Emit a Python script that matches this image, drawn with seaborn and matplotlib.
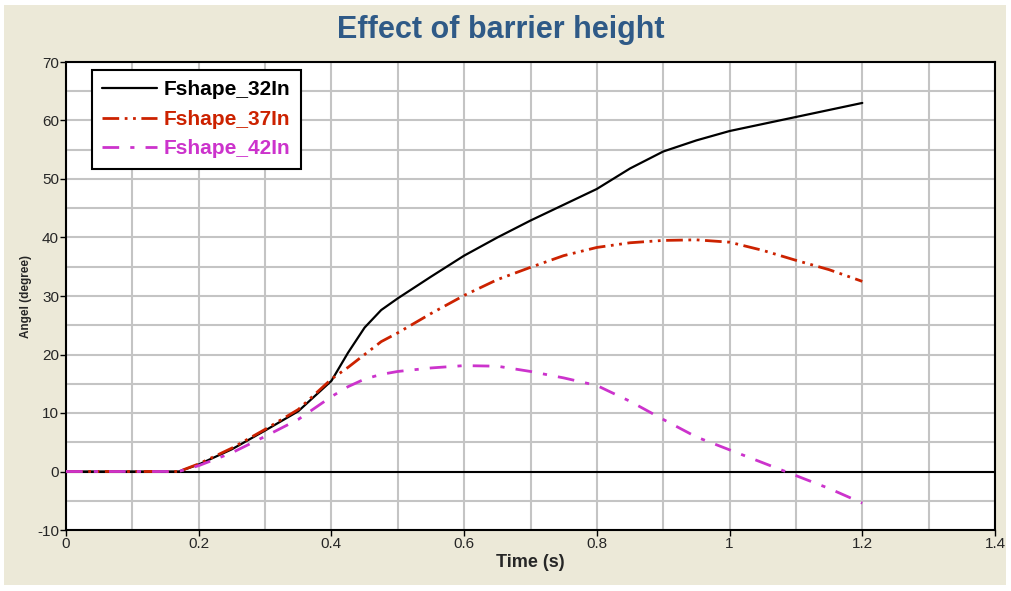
import matplotlib
matplotlib.use("Agg")
import matplotlib.pyplot as plt
from matplotlib.patches import Rectangle
import seaborn as sns
import pandas as pd

time_s = [0.0, 0.1, 0.17, 0.2, 0.25, 0.3, 0.35, 0.4, 0.425, 0.45, 0.475, 0.5, 0.55,
          0.6, 0.65, 0.7, 0.75, 0.8, 0.85, 0.9, 0.95, 1.0, 1.05, 1.1, 1.15, 1.2]
fshape_32 = [0, 0, 0, 1.2, 3.8, 7.0, 10.3, 15.5, 20.3, 24.6, 27.6, 29.6, 33.3,
             36.9, 40.0, 42.9, 45.6, 48.3, 51.8, 54.7, 56.6, 58.2, 59.4, 60.6, 61.8, 63.0]
fshape_37 = [0, 0, 0, 1.3, 4.0, 7.2, 10.6, 15.8, 17.8, 20.0, 22.2, 23.7, 27.0,
             30.1, 32.8, 34.9, 36.9, 38.3, 39.1, 39.5, 39.6, 39.2, 37.8, 36.1, 34.5, 32.5]
fshape_42 = [0, 0, 0, 1.0, 3.2, 6.0, 8.9, 12.8, 14.5, 15.8, 16.6, 17.1, 17.7,
             18.1, 18.0, 17.1, 16.0, 14.7, 12.0, 8.9, 5.9, 3.7, 1.5, -0.7, -2.9, -5.4]
series_names = ["Fshape_32In", "Fshape_37In", "Fshape_42In"]
colors = ["#000000", "#CC2200", "#CC33CC"]
dashes = [None, (6, 2, 1, 2, 1, 2), (6, 4, 1.5, 4)]

sns.set_theme(style="white")
plt.rcParams['font.family'] = ['Liberation Sans', 'DejaVu Sans']
plt.rcParams['axes.unicode_minus'] = False

fig = plt.figure(figsize=(10.11, 5.91), dpi=100, facecolor="white")
fig.patches.append(Rectangle((4 / 1011, 6 / 591), 1002 / 1011, 580 / 591,
                             transform=fig.transFigure, facecolor="#ECE9D8",
                             edgecolor="none", zorder=-10))
ax = fig.add_axes([66 / 1011, 61 / 591, 929 / 1011, 468 / 591])
ax.set_zorder(1)
ax.set_facecolor("white")

for name, vals, c, d in zip(series_names, [fshape_32, fshape_37, fshape_42], colors, dashes):
    df = pd.DataFrame({"t": time_s, "v": vals})
    sns.lineplot(data=df, x="t", y="v", ax=ax, color=c, linewidth=2 if d else 1.6,
                 label=name, zorder=3)
    line = ax.get_lines()[-1]
    if d:
        line.set_dashes(d)

ax.axhline(0, color="black", linewidth=1.5, zorder=2)
ax.set_xlim(0, 1.4)
ax.set_ylim(-10, 70)
ax.set_xticks([i * 0.1 for i in range(15)], minor=True)
ax.set_xticks([0, 0.2, 0.4, 0.6, 0.8, 1.0, 1.2, 1.4])
ax.set_xticklabels(["0", "0.2", "0.4", "0.6", "0.8", "1", "1.2", "1.4"])
ax.set_yticks(range(-10, 71, 5), minor=True)
ax.set_yticks(range(-10, 71, 10))
ax.grid(True, which="both", color="#C4C4C4", linewidth=1.5, zorder=1)
ax.set_axisbelow(True)
ax.tick_params(which="major", direction="out", length=4, width=1, color="black",
               labelsize=11, pad=1, left=True, bottom=True)
ax.tick_params(which="minor", length=0)
for s in ax.spines.values():
    s.set_color("black")
    s.set_linewidth(1.5)

ax.set_xlabel("Time (s)", fontsize=13, fontweight="bold", labelpad=2)
ax.set_ylabel("Angel (degree)", fontsize=8.5, fontweight="bold", labelpad=4)
fig.text(0.495, 1 - 30 / 591, "Effect of barrier height", ha="center", va="center",
         fontsize=22, fontweight="bold", color="#2F5A87")

leg = ax.legend(loc="upper left", bbox_to_anchor=(26 / 929, 1 - 8 / 468), frameon=True,
                fancybox=False, framealpha=1, edgecolor="black", handlelength=2.6,
                handletextpad=0.35, borderpad=0.5, labelspacing=0.5, borderaxespad=0,
                prop={"weight": "bold", "size": 15})
leg.get_frame().set_linewidth(1.5)
for txt, c in zip(leg.get_texts(), colors):
    txt.set_color(c)

fig.savefig("out.png", dpi=100, facecolor=fig.get_facecolor())
